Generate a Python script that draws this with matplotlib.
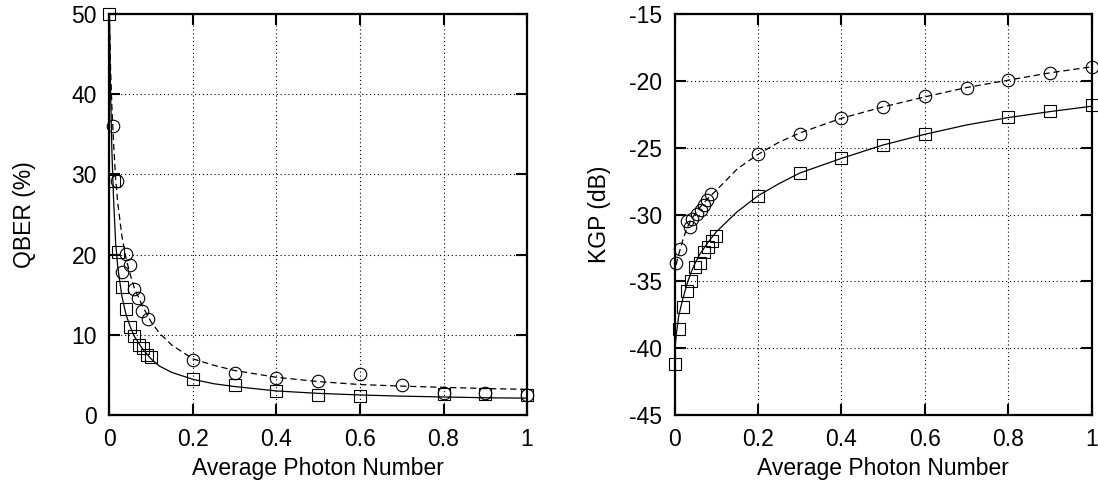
import matplotlib.pyplot as plt

plt.rcParams['font.family'] = ['Liberation Sans', 'DejaVu Sans']
plt.rcParams['axes.unicode_minus'] = False

# --- QBER panel: measured points ---
qber_sq_x = [0, 0.01, 0.02, 0.03, 0.04, 0.05, 0.06, 0.07, 0.08, 0.09, 0.1,
             0.2, 0.3, 0.4, 0.5, 0.6, 0.8, 0.9, 1.0]
qber_sq_y = [50, 29.2, 20.3, 16.0, 13.2, 11.0, 9.9, 8.75, 8.3, 7.5, 7.2,
             4.45, 3.7, 3.0, 2.5, 2.4, 2.6, 2.6, 2.5]
qber_ci_x = [0.009, 0.018, 0.03, 0.04, 0.05, 0.058, 0.068, 0.079, 0.092,
             0.2, 0.3, 0.4, 0.5, 0.6, 0.7, 0.8, 0.9, 1.0]
qber_ci_y = [36.0, 29.2, 17.8, 20.1, 18.7, 15.7, 14.6, 13.0, 12.0,
             6.9, 5.3, 4.6, 4.25, 5.1, 3.8, 2.8, 2.8, 2.5]

# --- QBER panel: curves ---
qber_fit_x = [0, 0.003, 0.006, 0.01, 0.015, 0.02, 0.03, 0.04, 0.05, 0.06, 0.08,
              0.1, 0.12, 0.15, 0.2, 0.25, 0.3, 0.4, 0.5, 0.6, 0.7, 0.8, 0.9, 1.0]
qber_solid_y = [50, 40, 33, 27, 21.5, 18.5, 14.8, 12.5, 11.0, 9.8, 8.2,
                7.0, 6.1, 5.3, 4.45, 3.9, 3.55, 3.0, 2.7, 2.5, 2.35, 2.25, 2.15, 2.1]
qber_dash_y = [50, 43, 38.5, 34, 29.5, 26.5, 22.3, 19.5, 17.5, 15.8, 13.5,
               11.6, 10.2, 8.7, 7.0, 6.2, 5.55, 4.7, 4.17, 3.8, 3.6, 3.45, 3.3, 3.2]

# --- KGP panel: measured points ---
kgp_sq_x = [0, 0.01, 0.02, 0.03, 0.04, 0.05, 0.06, 0.07, 0.08, 0.09, 0.1,
            0.2, 0.3, 0.4, 0.5, 0.6, 0.8, 0.9, 1.0]
kgp_sq_y = [-41.2, -38.6, -36.9, -35.7, -34.95, -33.95, -33.6, -32.8, -32.45,
            -31.95, -31.6, -28.6, -26.9, -25.8, -24.8, -24.0, -22.7, -22.25, -21.8]
kgp_ci_x = [0.003, 0.014, 0.031, 0.038, 0.043, 0.053, 0.063, 0.071, 0.079, 0.087,
            0.2, 0.3, 0.4, 0.5, 0.6, 0.7, 0.8, 0.9, 1.0]
kgp_ci_y = [-33.6, -32.6, -30.45, -30.95, -30.3, -29.95, -29.65, -29.3, -28.95,
            -28.45, -25.5, -23.95, -22.8, -21.95, -21.15, -20.5, -19.9, -19.4, -18.95]

# --- KGP panel: curves ---
kgp_fit_x = [0, 0.005, 0.01, 0.02, 0.03, 0.04, 0.05, 0.06, 0.08, 0.1, 0.15,
             0.2, 0.25, 0.3, 0.4, 0.5, 0.6, 0.7, 0.8, 0.9, 1.0]
kgp_solid_y = [-40.3, -38.8, -37.6, -36.3, -35.2, -34.3, -33.6, -33.0, -32.1,
               -31.3, -29.8, -28.6, -27.7, -26.9, -25.8, -24.8, -24.0, -23.3,
               -22.75, -22.3, -21.9]
kgp_dash_y = [-34.5, -33.6, -33.0, -31.9, -31.0, -30.4, -29.9, -29.5, -28.8,
              -28.2, -26.6, -25.5, -24.6, -23.9, -22.8, -21.95, -21.2, -20.5,
              -19.95, -19.4, -18.95]

x_ticks = [0, 0.2, 0.4, 0.6, 0.8, 1.0]
x_ticklabels = ['0', '0.2', '0.4', '0.6', '0.8', '1']
qber_ticks = [0, 10, 20, 30, 40, 50]
kgp_ticks = [-45, -40, -35, -30, -25, -20, -15]

fig = plt.figure(figsize=(10.98, 4.95), dpi=100)
ax1 = fig.add_axes([0.0996, 0.1616, 0.3804, 0.8101])
ax2 = fig.add_axes([0.6143, 0.1616, 0.3800, 0.8101])

mk = dict(linestyle='none', markerfacecolor='none', markeredgecolor='black',
          markeredgewidth=0.8, markersize=9, clip_on=False, zorder=4)


def style(ax, yticks, ylabel, ylabel_x):
    ax.set_xlim(0, 1)
    ax.set_ylim(yticks[0], yticks[-1])
    ax.set_xticks(x_ticks)
    ax.set_xticklabels(x_ticklabels)
    ax.set_yticks(yticks)
    ax.set_yticklabels([str(t) for t in yticks])
    ax.tick_params(direction='in', length=8, width=1.5, top=True, right=True,
                   labelsize=16.5, pad=9)
    for s in ax.spines.values():
        s.set_linewidth(1.6)
    ax.grid(True, color='black', linestyle=(0, (1, 2.5)), linewidth=0.8)
    ax.set_axisbelow(True)
    ax.set_xlabel('Average Photon Number', fontsize=16.5, labelpad=5)
    ax.set_ylabel(ylabel, fontsize=16.5)
    ax.yaxis.set_label_coords(ylabel_x, 0.5)


ax1.plot(qber_fit_x, qber_solid_y, color='black', linewidth=0.9)
ax1.plot(qber_fit_x, qber_dash_y, color='black', linewidth=0.9, dashes=(5, 3))
ax1.plot(qber_sq_x, qber_sq_y, marker='s', **mk)
ax1.plot(qber_ci_x, qber_ci_y, marker='o', **mk)
style(ax1, qber_ticks, 'QBER (%)', -0.175)

ax2.plot(kgp_fit_x, kgp_solid_y, color='black', linewidth=0.9)
ax2.plot(kgp_fit_x, kgp_dash_y, color='black', linewidth=0.9, dashes=(5, 3))
ax2.plot(kgp_sq_x, kgp_sq_y, marker='s', **mk)
ax2.plot(kgp_ci_x, kgp_ci_y, marker='o', **mk)
style(ax2, kgp_ticks, 'KGP (dB)', -0.152)

fig.savefig('out.png', dpi=100)
